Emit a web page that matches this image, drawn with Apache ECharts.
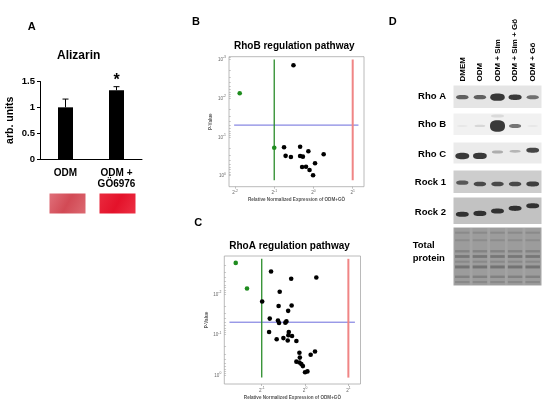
<!DOCTYPE html>
<html><head><meta charset="utf-8">
<script src="https://cdn.jsdelivr.net/npm/echarts@6/dist/echarts.min.js"></script>
<style>html,body{margin:0;padding:0;background:#fff}#c{width:550px;height:407px}</style>
</head><body><div id="c"></div>
<script>
// ---------------- DATA ----------------
// Panel A – Alizarin
const alizarinCategories = ['ODM', 'ODM +\nGÖ6976'];
const alizarinValues = [1.0, 1.33];
const alizarinErrors = [0.16, 0.07];
const alizarinSig = ['', '*'];

// Panel B – RhoB regulation pathway  [log2(fold), -log10(p)]
const rhoBDown = [[-1.88, 2.12], [-1.0, 0.72]];
const rhoBOther = [[-0.51, 2.84], [-0.75, 0.73], [-0.34, 0.745], [-0.13, 0.63], [-0.71, 0.51],
  [-0.575, 0.48], [-0.34, 0.505], [-0.27, 0.49], [0.26, 0.55], [0.04, 0.32], [-0.29, 0.225],
  [-0.19, 0.23], [-0.10, 0.147], [-0.01, 0.01]];

// Panel C – RhoA regulation pathway  [log2(fold), -log10(p)]
const rhoADown = [[-1.60, 2.76], [-1.34, 2.13]];
const rhoAOther = [[-0.785, 2.55], [-0.32, 2.37], [0.26, 2.40], [-0.585, 2.05], [-0.99, 1.81],
  [-0.61, 1.70], [-0.31, 1.71], [-0.39, 1.58], [-0.815, 1.39], [-0.625, 1.34], [-0.60, 1.28],
  [-0.455, 1.29], [-0.43, 1.32], [-0.375, 1.06], [-0.83, 1.06], [-0.385, 0.98], [-0.30, 0.96],
  [-0.655, 0.88], [-0.50, 0.91], [-0.40, 0.85], [-0.20, 0.84], [-0.13, 0.55], [-0.12, 0.43],
  [0.23, 0.58], [0.13, 0.50], [-0.20, 0.33], [-0.13, 0.31], [-0.085, 0.27], [-0.05, 0.22],
  [0.0, 0.07], [0.055, 0.09]];

const foldThresholds = [-1, 1];   // log2(0.5), log2(2)
const pThreshold = 1.301;          // -log10(0.05)
const log2TicksB = [-2, -1, 0, 1];
const log2TicksC = [-1, 0, 1];
const pTicksB = [0, 1, 2, 3];
const pTicksC = [0, 1, 2];

// Panel D – western blots
const laneLabels = ['DMEM', 'ODM', 'ODM + Sim', 'ODM + Sim + Gö', 'ODM + Gö'];
const blotRows = ['Rho A', 'Rho B', 'Rho C', 'Rock 1', 'Rock 2'];
const rhoAIntensity  = [0.45, 0.45, 1.0, 0.65, 0.40];
const rhoBIntensity  = [0.03, 0.08, 1.8, 0.40, 0.03];
const rhoCIntensity  = [0.85, 0.80, 0.20, 0.18, 0.55];
const rock1Intensity = [0.45, 0.50, 0.50, 0.50, 0.55];
const rock2Intensity = [0.60, 0.60, 0.60, 0.60, 0.60];
const rhoAMigration  = [0.52, 0.52, 0.52, 0.52, 0.52];
const rhoBMigration  = [0.58, 0.58, 0.58, 0.58, 0.58];
const rhoCMigration  = [0.64, 0.64, 0.45, 0.42, 0.37];
const rock1Migration = [0.54, 0.60, 0.60, 0.60, 0.60];
const rock2Migration = [0.63, 0.60, 0.51, 0.41, 0.31];
const totalProteinLevels = [0.09, 0.22, 0.41, 0.50, 0.59, 0.68, 0.85, 0.94];
const totalProteinIntensity = [0.25, 0.2, 0.45, 0.75, 0.3, 0.85, 0.5, 0.3];

// ---------------- CHART ----------------
const FONT = "'Liberation Sans', Arial, sans-serif";
const chart = echarts.init(document.getElementById('c'), null, {renderer: 'canvas'});

const grids = [
  {left: 40, top: 81.5, width: 102, height: 77.5},            // A
  {left: 229, top: 56.7, width: 135, height: 130, show: true, borderColor: '#a8a8a8', borderWidth: 0.8}, // B
  {left: 224.3, top: 256, width: 136.2, height: 128, show: true, borderColor: '#a8a8a8', borderWidth: 0.8} // C
];
const dLayout = [
  {top: 85.5, h: 22.5, bg: '#e5e5e5', inten: rhoAIntensity, mig: rhoAMigration},
  {top: 113.5, h: 21.5, bg: '#f1f1f1', inten: rhoBIntensity, mig: rhoBMigration},
  {top: 142.5, h: 21, bg: '#ebebeb', inten: rhoCIntensity, mig: rhoCMigration},
  {top: 170.5, h: 22.5, bg: '#cdcdcd', inten: rock1Intensity, mig: rock1Migration},
  {top: 197.5, h: 26.5, bg: '#c2c2c2', inten: rock2Intensity, mig: rock2Migration},
  {top: 227.5, h: 58, bg: '#a3a3a3'}
];
dLayout.forEach(r => grids.push({left: 453.5, top: r.top, width: 88, height: r.h, show: true,
  backgroundColor: r.bg, borderWidth: 0}));
grids.forEach(g => { g.outerBoundsMode = 'none'; g.containLabel = false; });

const supRich = {
  b: {fontSize: 4.6, color: '#6a6a6a', fontFamily: FONT, lineHeight: 6, verticalAlign: 'bottom'},
  s: {fontSize: 3.4, color: '#6a6a6a', fontFamily: FONT, lineHeight: 6, verticalAlign: 'top'}
};
const fmtPow2 = v => '{b|2}{s|' + (v < 0 ? '-' : '') + Math.abs(v) + '}';
const fmtPow10 = v => '{b|10}{s|' + (v > 0 ? '-' : '') + Math.abs(v) + '}';
function minorLogTicks(lo, hi) {
  const out = [];
  for (let d = -1; d <= 4; d++) for (let k = 1; k <= 9; k++) {
    const y = d - Math.log10(k);
    if (y >= lo && y <= hi) out.push(y);
  }
  return out;
}

const xRanges = [[-2.153, 1.288], [-1.864, 1.28]];
const yRanges = [[-0.283, 3.06], [-0.22, 2.93]];

const xAxes = [
  {gridIndex: 0, type: 'category', data: alizarinCategories,
    axisLine: {lineStyle: {color: '#000', width: 1}}, axisTick: {show: false},
    axisLabel: {color: '#000', fontWeight: 'bold', fontSize: 10, fontFamily: FONT, margin: 9, lineHeight: 11}}
];
const yAxes = [
  {gridIndex: 0, type: 'value', min: 0, max: 1.5, interval: 0.5,
    axisLine: {show: true, lineStyle: {color: '#000', width: 1}},
    axisTick: {show: true, length: 3, lineStyle: {color: '#000'}},
    splitLine: {show: false},
    axisLabel: {color: '#000', fontWeight: 'bold', fontSize: 9.5, fontFamily: FONT, margin: 5},
    name: 'arb. units', nameLocation: 'middle', nameGap: 24,
    nameTextStyle: {color: '#000', fontWeight: 'bold', fontSize: 10.5, fontFamily: FONT}}
];
[[log2TicksB, pTicksB], [log2TicksC, pTicksC]].forEach((t, k) => {
  const gi = k + 1;
  xAxes.push({gridIndex: gi, type: 'value', min: xRanges[k][0], max: xRanges[k][1], position: 'bottom',
    axisLine: {show: false, onZero: false}, splitLine: {show: false},
    axisTick: {show: true, inside: false, length: 2, customValues: t[0], lineStyle: {color: '#999', width: 0.6}},
    axisLabel: {customValues: t[0], formatter: fmtPow2, rich: supRich, margin: 3},
    name: 'Relative Normalized Expression of ODM+GÖ', nameLocation: 'middle', nameGap: 11,
    nameTextStyle: {fontSize: 4.6, color: '#555', fontFamily: FONT, fontWeight: 'bold'}});
  yAxes.push({gridIndex: gi, type: 'value', min: yRanges[k][0], max: yRanges[k][1], position: 'left',
    axisLine: {show: false, onZero: false}, splitLine: {show: false},
    axisTick: {show: true, inside: true, length: 1.8,
      customValues: minorLogTicks(yRanges[k][0], yRanges[k][1]), lineStyle: {color: '#999', width: 0.5}},
    axisLabel: {customValues: t[1], formatter: fmtPow10, rich: supRich, margin: 3},
    name: 'P-Value', nameLocation: 'middle', nameGap: 15.5,
    nameTextStyle: {fontSize: 4.6, color: '#555', fontFamily: FONT, fontWeight: 'bold'}});
});
dLayout.forEach((r, i) => {
  const gi = 3 + i;
  xAxes.push(i === 0 ? {gridIndex: gi, type: 'category', data: laneLabels, position: 'top',
      axisLine: {show: false}, axisTick: {show: false},
      axisLabel: {rotate: 90, margin: 4, color: '#000', fontWeight: 'bold', fontSize: 8, fontFamily: FONT}}
    : {gridIndex: gi, type: 'category', data: laneLabels, show: false});
  yAxes.push({gridIndex: gi, type: 'value', min: 0, max: 1, inverse: true, show: false});
});

// threshold lines (inset slightly inside the frame, as in the figure)
function thresholdSeries(k) {
  const gi = k + 1, xr = xRanges[k], yr = yRanges[k];
  const xs = xr[1] - xr[0], ys = yr[1] - yr[0];
  const yLo = yr[0] + 0.05 * ys, yHi = yr[1] - 0.022 * ys;
  const xLo = xr[0] + 0.038 * xs, xHi = xr[1] - 0.041 * xs;
  const mk = (data, c, w) => ({type: 'line', xAxisIndex: gi, yAxisIndex: gi, data, symbol: 'none',
    lineStyle: {color: c, width: w}, silent: true, z: 1});
  return [
    mk([[xLo, pThreshold], [xHi, pThreshold]], '#5a5ad8', 0.9),
    mk([[foldThresholds[0], yLo], [foldThresholds[0], yHi]], '#2a8c2a', 1.3),
    mk([[foldThresholds[1], yLo], [foldThresholds[1], yHi]], '#f08585', 2)
  ];
}
function points(k, data, color) {
  return {type: 'scatter', xAxisIndex: k + 1, yAxisIndex: k + 1, data, symbolSize: 4.6,
    itemStyle: {color, opacity: 1}, z: 3};
}

const series = [
  {type: 'bar', xAxisIndex: 0, yAxisIndex: 0, data: alizarinValues, barWidth: 15,
    itemStyle: {color: '#000'}},
  {type: 'custom', xAxisIndex: 0, yAxisIndex: 0,
    data: alizarinValues.map((v, i) => [i, v, alizarinErrors[i]]),
    renderItem: (params, api) => {
      const x = api.value(0), v = api.value(1), e = api.value(2);
      const b = api.coord([x, v]), t = api.coord([x, v + e]);
      const ch = [
        {type: 'line', shape: {x1: b[0], y1: b[1], x2: t[0], y2: t[1]}, style: {stroke: '#000', lineWidth: 1}},
        {type: 'line', shape: {x1: t[0] - 3, y1: t[1], x2: t[0] + 3, y2: t[1]}, style: {stroke: '#000', lineWidth: 1}}
      ];
      const sig = alizarinSig[params.dataIndex];
      if (sig) ch.push({type: 'text', x: t[0], y: t[1] - 6,
        style: {text: sig, font: 'bold 16px ' + FONT, fill: '#000', align: 'center', verticalAlign: 'middle',
          textAlign: 'center', textVerticalAlign: 'middle'}});
      return {type: 'group', children: ch};
    }, z: 4},
  ...thresholdSeries(0), points(0, rhoBOther, '#000'), points(0, rhoBDown, '#1f8c1f'),
  ...thresholdSeries(1), points(1, rhoAOther, '#000'), points(1, rhoADown, '#1f8c1f')
];

// blot bands
const bandPath = 'path://M0,50 C0,12 18,0 50,0 C82,0 100,12 100,50 C100,88 82,100 50,100 C18,100 0,88 0,50 Z';
dLayout.slice(0, 5).forEach((r, i) => {
  series.push({type: 'scatter', xAxisIndex: 3 + i, yAxisIndex: 3 + i, silent: true,
    data: r.inten.map((v, lane) => [lane, r.mig[lane], v]),
    symbol: bandPath,
    symbolSize: d => [Math.min(15, 10.5 + 4 * d[2]), Math.min(11.5, 1.8 + 5.5 * d[2])],
    itemStyle: {color: p => 'rgba(12,12,12,' + Math.min(1, p.data[2] * 1.7).toFixed(3) + ')'}});
});
// faint smear above the strong Rho B band
series.push({type: 'scatter', xAxisIndex: 4, yAxisIndex: 4, silent: true,
  data: [[laneLabels.indexOf('ODM + Sim'), 0.12, rhoBIntensity[2]]], symbol: bandPath, symbolSize: [13, 3],
  itemStyle: {color: 'rgba(12,12,12,0.12)'}});
// total protein stain
series.push({type: 'scatter', xAxisIndex: 8, yAxisIndex: 8, silent: true,
  data: laneLabels.map((l, lane) => [lane, 0.5]), symbol: 'rect', symbolSize: [15, 57],
  itemStyle: {color: 'rgba(0,0,0,0.05)'}});
const tpData = [];
laneLabels.forEach((l, lane) => totalProteinLevels.forEach((y, j) => tpData.push([lane, y, totalProteinIntensity[j]])));
series.push({type: 'scatter', xAxisIndex: 8, yAxisIndex: 8, silent: true, data: tpData,
  symbol: 'rect', symbolSize: d => [14.5, 1.6 + 1.6 * d[2]],
  itemStyle: {color: p => 'rgba(40,40,40,' + (0.08 + 0.42 * p.data[2]).toFixed(3) + ')'}});

// annotation texts
const T = (text, x, y, font, align) => ({type: 'text', x, y, silent: true,
  style: {text, font, fill: '#000', align: align || 'center', verticalAlign: 'middle',
    textAlign: align || 'center', textVerticalAlign: 'middle'}});
const rowLabelY = [96.7, 124.3, 154, 182.7, 212.5];
const graphic = [
  T('A', 31.7, 26.7, 'bold 11px ' + FONT),
  T('B', 196, 21.7, 'bold 11px ' + FONT),
  T('C', 198.3, 223.3, 'bold 11px ' + FONT),
  T('D', 392.7, 21.7, 'bold 11px ' + FONT),
  T('Alizarin', 78.7, 55.7, 'bold 12px ' + FONT),
  T('RhoB regulation pathway', 294.3, 46.7, 'bold 10px ' + FONT),
  T('RhoA regulation pathway', 289.5, 246.7, 'bold 10px ' + FONT),
  {type: 'rect', shape: {x: 49.5, y: 193.5, width: 36, height: 20}, silent: true,
    style: {fill: new echarts.graphic.LinearGradient(0, 0, 1, 1, [
      {offset: 0, color: '#e0707a'}, {offset: 0.5, color: '#d24a55'}, {offset: 1, color: '#dc6a72'}])}},
  {type: 'rect', shape: {x: 99.5, y: 193.5, width: 36, height: 20}, silent: true,
    style: {fill: new echarts.graphic.LinearGradient(0, 0, 1, 1, [
      {offset: 0, color: '#ea2a3e'}, {offset: 0.5, color: '#e4122a'}, {offset: 1, color: '#ec3044'}])}}
];
blotRows.forEach((name, i) => graphic.push(T(name, 446, rowLabelY[i], 'bold 9.5px ' + FONT, 'right')));
graphic.push(T('Total', 412.7, 245, 'bold 9.5px ' + FONT, 'left'));
graphic.push(T('protein', 412.7, 258.3, 'bold 9.5px ' + FONT, 'left'));

chart.setOption({
  animation: false,
  backgroundColor: '#fff',
  grid: grids, xAxis: xAxes, yAxis: yAxes, series, graphic
});
</script></body></html>
